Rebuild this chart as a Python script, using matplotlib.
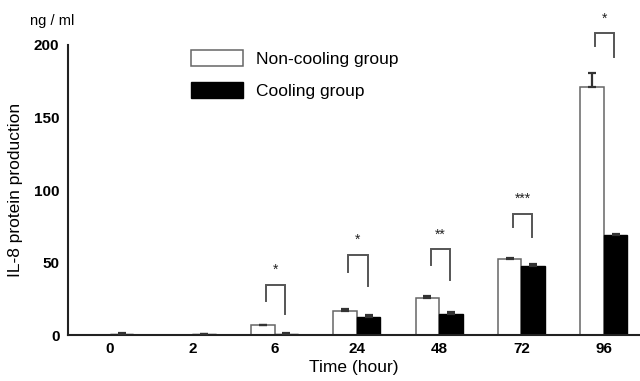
import matplotlib
matplotlib.use("Agg")
import matplotlib.pyplot as plt
import numpy as np

plt.rcParams['font.family'] = ['Liberation Sans', 'DejaVu Sans']

# ---- data ----
time_labels = ["0", "2", "6", "24", "48", "72", "96"]
non_cooling = [0.0, 0.0, 6.6, 16.8, 25.3, 52.2, 171.2]
non_cooling_err = [0.0, 0.0, 0.6, 1.1, 1.4, 0.7, 9.7]
cooling = [0.8, 0.6, 0.9, 12.7, 14.7, 47.6, 69.2]
cooling_err = [0.3, 0.3, 0.4, 0.8, 1.4, 1.1, 0.5]

# significance annotations (group index, marker, bracket top, left-leg end, right-leg end)
sig_groups = [2, 3, 4, 5, 6]
sig_marks = ["*", "*", "**", "***", "*"]
sig_top = [34.5, 55.2, 59.1, 83.4, 208.0]
sig_left_end = [23.4, 43.7, 48.3, 74.7, 199.3]
sig_right_end = [14.5, 33.8, 37.9, 67.4, 191.5]

# ---- figure ----
fig = plt.figure(figsize=(6.4, 3.81), dpi=100)
ax = fig.add_axes([0.1058, 0.1207, 0.8942, 0.7612])

x = np.arange(len(time_labels))
w = 0.285

ax.bar(x - w / 2, non_cooling, width=w, color="white", edgecolor="#666666",
       linewidth=1.1, label="Non-cooling group", zorder=2)
ax.bar(x + w / 2, cooling, width=w, color="black", edgecolor="black",
       linewidth=1.0, label="Cooling group", zorder=2)

nc = np.array(non_cooling)
c = np.array(cooling)
mask_nc = nc > 0
ax.errorbar((x - w / 2)[mask_nc], nc[mask_nc],
            yerr=[np.zeros(mask_nc.sum()), np.array(non_cooling_err)[mask_nc]],
            fmt="none", ecolor="#333333", elinewidth=1.6, capsize=3, capthick=1.6,
            zorder=3)
ax.errorbar(x + w / 2, c, yerr=[np.zeros(len(c)), np.array(cooling_err)],
            fmt="none", ecolor="#333333", elinewidth=1.6, capsize=3, capthick=1.6,
            zorder=3)

# significance brackets
for g, m, t, le, re in zip(sig_groups, sig_marks, sig_top, sig_left_end, sig_right_end):
    xl = g - 0.105
    xr = g + 0.13
    ax.plot([xl, xl, xr, xr], [le, t, t, re], color="#555555", lw=1.4,
            clip_on=False, zorder=4, solid_joinstyle="miter")
    ax.text((xl + xr) / 2, t + 5.5, m, ha="center", va="bottom",
            fontsize=10, color="#222222", clip_on=False)

ax.set_xlim(-0.514, 6.44)
ax.set_ylim(0, 200)
ax.set_xticks(x)
ax.set_xticklabels(time_labels, fontsize=11, fontweight="bold")
ax.set_yticks([0, 50, 100, 150, 200])
ax.set_yticklabels(["0", "50", "100", "150", "200"], fontsize=11, fontweight="bold")
ax.tick_params(axis="both", length=0)
ax.tick_params(axis="y", pad=6)
ax.tick_params(axis="x", pad=5)

for s in ["top", "right"]:
    ax.spines[s].set_visible(False)
for s in ["left", "bottom"]:
    ax.spines[s].set_linewidth(1.5)
    ax.spines[s].set_color("#222222")

ax.set_xlabel("Time (hour)", fontsize=12.5, labelpad=3)
ax.set_ylabel("IL-8 protein production", fontsize=12.5, labelpad=8)
fig.text(30 / 640, 1 - 21 / 381, "ng / ml", fontsize=10.5, ha="left", va="center")

ax.legend(loc="upper left", bbox_to_anchor=(191 / 640, 1 - 50 / 381),
          bbox_transform=fig.transFigure, frameon=False, fontsize=12.5,
          handlelength=3.0, handleheight=1.05, handletextpad=0.75,
          labelspacing=0.85, borderpad=0, borderaxespad=0)

fig.savefig("out.png", dpi=100)
